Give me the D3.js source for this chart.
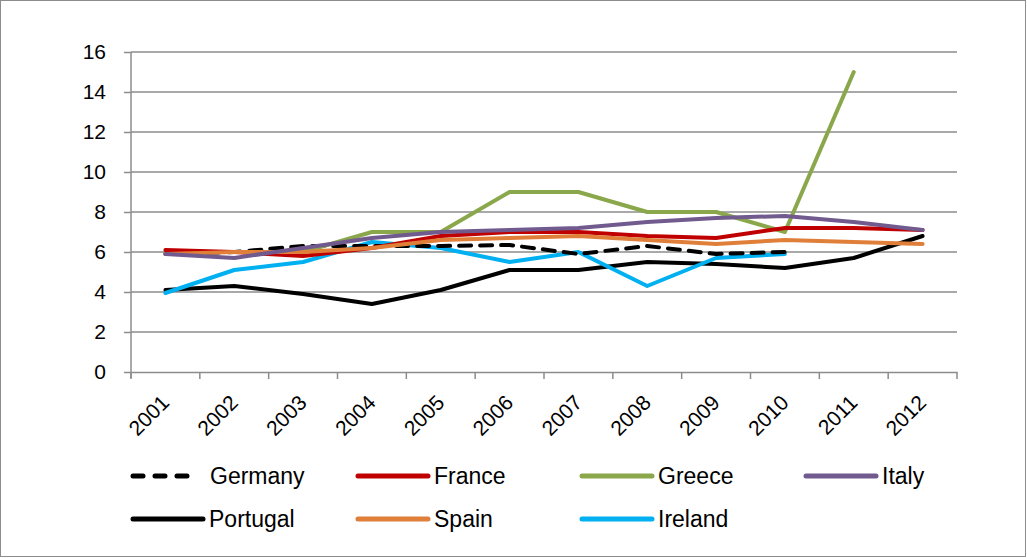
<!DOCTYPE html>
<html>
<head>
<meta charset="utf-8">
<script src="https://cdn.jsdelivr.net/npm/d3@7"></script>
<style>
  body { margin: 0; background: #fff; }
  svg { display: block; font-family: "Liberation Sans", Arial, sans-serif; }
</style>
</head>
<body>
<div id="chart"></div>
<script>
// data
const years = ["2001", "2002", "2003", "2004", "2005", "2006", "2007", "2008", "2009", "2010", "2011", "2012"];
const germany  = [5.9, 6.0, 6.3, 6.3, 6.3, 6.35, 5.9, 6.3, 5.9, 6.0, null, null];
const france   = [6.1, 6.0, 5.8, 6.2, 6.8, 7.0, 7.0, 6.8, 6.7, 7.2, 7.2, 7.1];
const greece   = [6.0, 6.0, 6.0, 7.0, 7.0, 9.0, 9.0, 8.0, 8.0, 7.0, 15.0, null];
const italy    = [5.9, 5.7, 6.2, 6.7, 7.0, 7.1, 7.2, 7.5, 7.7, 7.8, 7.5, 7.1];
const portugal = [4.1, 4.3, 3.9, 3.4, 4.1, 5.1, 5.1, 5.5, 5.4, 5.2, 5.7, 6.8];
const spain    = [5.9, 6.0, 6.0, 6.2, 6.6, 6.7, 6.8, 6.6, 6.4, 6.6, 6.5, 6.4];
const ireland  = [3.95, 5.1, 5.5, 6.5, 6.2, 5.5, 6.0, 4.3, 5.7, 5.9, null, null];
const yTicks = [0, 2, 4, 6, 8, 10, 12, 14, 16];

// drawing order is the order in which the lines stack up
const series = [
  { name: "Germany",  values: germany,  color: "#000000", dash: "12,9" },
  { name: "France",   values: france,   color: "#C00000" },
  { name: "Greece",   values: greece,   color: "#8AA84B" },
  { name: "Italy",    values: italy,    color: "#715A8E" },
  { name: "Portugal", values: portugal, color: "#000000" },
  { name: "Spain",    values: spain,    color: "#E07F3A" },
  { name: "Ireland",  values: ireland,  color: "#00B0F0" }
];
const drawOrder = ["Portugal", "Ireland", "Germany", "Greece", "France", "Spain", "Italy"];

const width = 1027, height = 558;
const plot = { left: 131, right: 957, top: 52, bottom: 372 };

const svg = d3.select("#chart").append("svg")
  .attr("width", width)
  .attr("height", height);

// outer chart border
svg.append("rect")
  .attr("x", 0.5).attr("y", 0.5)
  .attr("width", 1025).attr("height", 556)
  .attr("fill", "#fff")
  .attr("stroke", "#8c8c8c");

const x = d3.scaleBand().domain(years).range([plot.left, plot.right]);
const y = d3.scaleLinear().domain([0, 16]).range([plot.bottom, plot.top]);

// gridlines
svg.append("g")
  .selectAll("line")
  .data(yTicks.filter(d => d > 0))
  .join("line")
  .attr("x1", plot.left).attr("x2", plot.right)
  .attr("y1", d => y(d)).attr("y2", d => y(d))
  .attr("stroke", "#8c8c8c")
  .attr("stroke-width", 1.5);

// y axis
const yAxis = svg.append("g")
  .attr("transform", `translate(${plot.left},0)`)
  .call(d3.axisLeft(y).tickValues(yTicks).tickSize(7).tickPadding(18).tickSizeOuter(0));
yAxis.select(".domain").attr("stroke", "#8c8c8c").attr("stroke-width", 1.5)
  .attr("d", `M0,${plot.top}V${plot.bottom + 6}`);
yAxis.selectAll(".tick line").attr("stroke", "#8c8c8c").attr("stroke-width", 1.5);
yAxis.selectAll(".tick text")
  .attr("font-size", 21)
  .attr("fill", "#000")
  .attr("font-family", "Liberation Sans, Arial, sans-serif");

// x axis
const xAxis = svg.append("g")
  .attr("transform", `translate(0,${plot.bottom})`)
  .call(d3.axisBottom(x).tickSize(0).tickSizeOuter(0));
xAxis.select(".domain").attr("stroke", "#8c8c8c").attr("stroke-width", 1.5);
xAxis.selectAll(".tick text").remove();
svg.append("g")
  .selectAll("line")
  .data(years.concat(["end"]))
  .join("line")
  .attr("x1", (d, i) => plot.left + i * x.bandwidth())
  .attr("x2", (d, i) => plot.left + i * x.bandwidth())
  .attr("y1", plot.bottom).attr("y2", plot.bottom + 7)
  .attr("stroke", "#8c8c8c")
  .attr("stroke-width", 1.5);

svg.append("g")
  .selectAll("text")
  .data(years)
  .join("text")
  .attr("transform", d => `translate(${x(d) + x.bandwidth() / 2 + 5},${plot.bottom + 32}) rotate(-45)`)
  .attr("text-anchor", "end")
  .attr("font-size", 21)
  .text(d => d);

// lines
const line = d3.line()
  .defined(d => d.v != null)
  .x(d => x(d.year) + x.bandwidth() / 2)
  .y(d => y(d.v));

svg.append("g")
  .selectAll("path")
  .data(drawOrder.map(n => series.find(s => s.name === n)))
  .join("path")
  .attr("d", s => line(s.values.map((v, i) => ({ year: years[i], v }))))
  .attr("fill", "none")
  .attr("stroke", s => s.color)
  .attr("stroke-width", 4)
  .attr("stroke-linejoin", "round")
  .attr("stroke-linecap", "round")
  .attr("stroke-dasharray", s => s.dash || null);

// legend
const legendCols = [133, 358, 582, 806];
const legendRows = [476, 519];
const legend = svg.append("g")
  .selectAll("g")
  .data(series)
  .join("g")
  .attr("transform", (d, i) => `translate(${legendCols[i % 4]},${legendRows[Math.floor(i / 4)]})`);

legend.append("line")
  .attr("x1", 0)
  .attr("x2", d => d.dash ? 60 : 70)
  .attr("stroke", d => d.color)
  .attr("stroke-width", 5)
  .attr("stroke-linecap", "round")
  .attr("stroke-dasharray", d => d.dash ? "10,12" : null);

legend.append("text")
  .attr("x", d => d.name === "Germany" ? 77 : 76)
  .attr("y", 0)
  .attr("dy", "0.35em")
  .attr("font-size", 23)
  .text(d => d.name);
</script>
</body>
</html>
